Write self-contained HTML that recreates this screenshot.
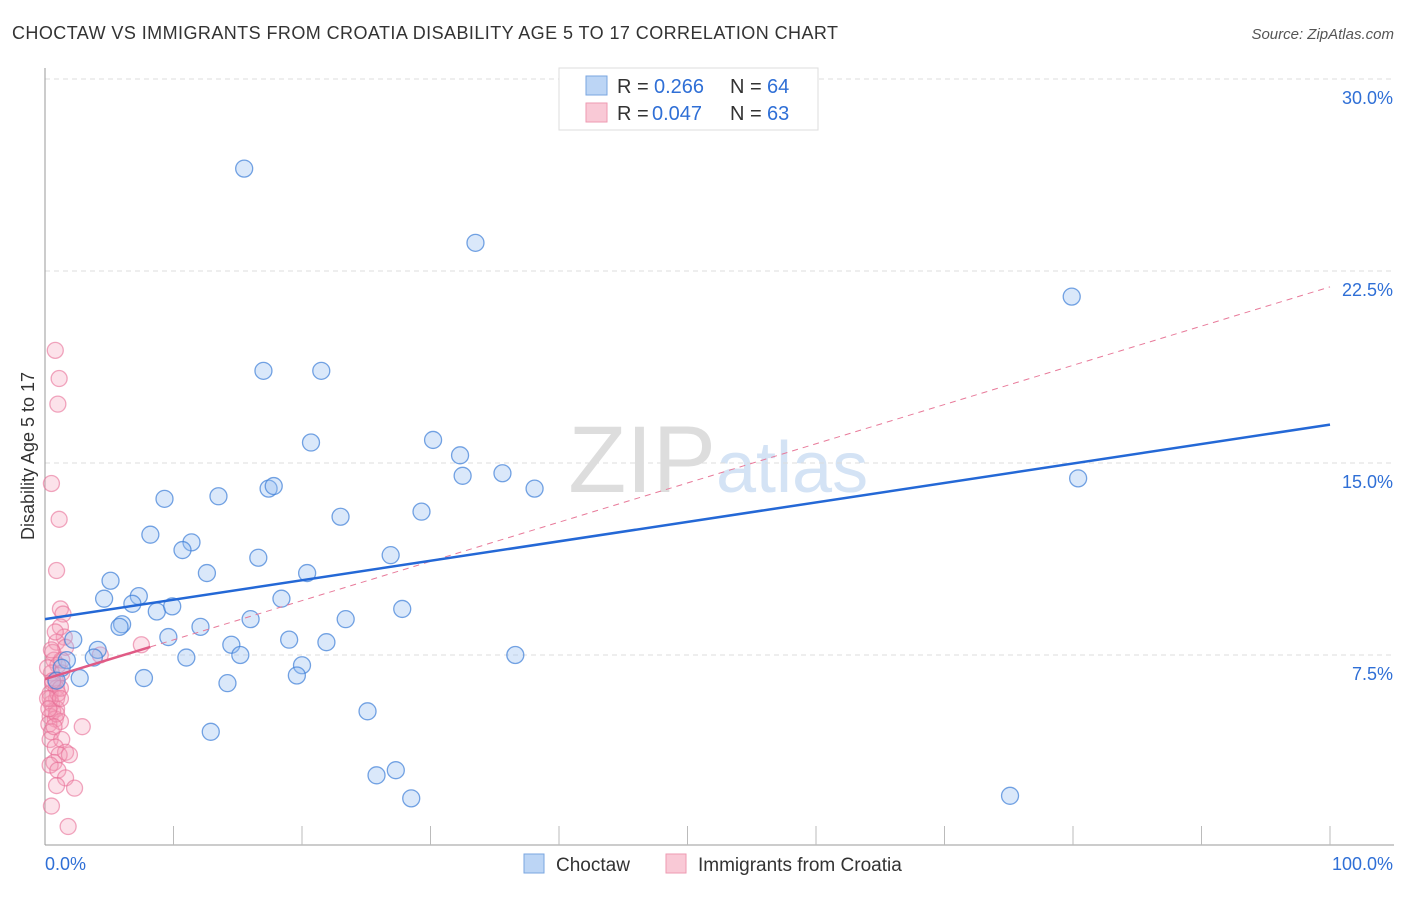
<!DOCTYPE html>
<html><head><meta charset="utf-8"><style>
body{margin:0;background:#fff;font-family:"Liberation Sans",sans-serif;}
svg text{font-family:"Liberation Sans",sans-serif;}
</style></head><body>
<svg id="c" width="1406" height="892">
<text x="12" y="39" font-size="18" fill="#333" textLength="826">CHOCTAW VS IMMIGRANTS FROM CROATIA DISABILITY AGE 5 TO 17 CORRELATION CHART</text>
<text x="1394" y="39" font-size="15" fill="#555" font-style="italic" text-anchor="end">Source: ZipAtlas.com</text>
<text x="34" y="456" font-size="18" fill="#333" text-anchor="middle" transform="rotate(-90 34 456)">Disability Age 5 to 17</text>
<text x="716" y="492" font-size="95" fill="#ddd" text-anchor="end" font-family="Liberation Serif">ZIP</text>
<text x="716" y="492" font-size="72" fill="#d4e3f5">atlas</text>
<g id="grid"></g><g id="marks"></g>
<g>
<rect x="559" y="68" width="259" height="62" fill="#fff" stroke="#ddd"/>
<rect x="586" y="76" width="21" height="19" fill="#bcd5f5" stroke="#7aa6e0"/>
<rect x="586" y="103" width="21" height="19" fill="#f9c9d6" stroke="#ee9ab2"/>
<text x="617" y="93" font-size="20" fill="#333">R = <tspan x="654" fill="#2f6fd6">0.266</tspan><tspan x="730">N = </tspan><tspan x="767" fill="#2f6fd6">64</tspan></text>
<text x="617" y="120" font-size="20" fill="#333">R = <tspan x="652" fill="#2f6fd6">0.047</tspan><tspan x="730">N = </tspan><tspan x="767" fill="#2f6fd6">63</tspan></text>
</g>
<g>
<rect x="524" y="854" width="20" height="19" fill="#bcd5f5" stroke="#7aa6e0"/>
<text x="556" y="871" font-size="19" fill="#333">Choctaw</text>
<rect x="666" y="854" width="20" height="19" fill="#f9c9d6" stroke="#ee9ab2"/>
<text x="698" y="871" font-size="19" fill="#333">Immigrants from Croatia</text>
</g>
</svg>
<script>
const yTicks=[7.5,15,22.5,30];
const yTickLabels=["7.5%","15.0%","22.5%","30.0%"];
const blueX=[15.5,33.5,79.9,17.0,21.5,20.7,30.2,32.3,32.5,35.6,38.1,80.4,9.3,13.5,17.4,17.8,23.0,29.3,8.2,11.4,10.7,16.6,26.9,12.6,5.1,20.4,4.6,7.3,6.8,8.7,9.9,18.4,27.8,6.0,5.8,16.0,23.4,12.1,9.6,19.0,21.9,14.5,4.1,3.8,15.2,36.6,11.0,2.2,1.7,1.3,20.0,19.6,7.7,2.7,14.2,25.1,12.9,25.8,27.3,28.5,75.1,0.9];
const blueY=[26.5,23.6,21.5,18.6,18.6,15.8,15.9,15.3,14.5,14.6,14.0,14.4,13.6,13.7,14.0,14.1,12.9,13.1,12.2,11.9,11.6,11.3,11.4,10.7,10.4,10.7,9.7,9.8,9.5,9.2,9.4,9.7,9.3,8.7,8.6,8.9,8.9,8.6,8.2,8.1,8.0,7.9,7.7,7.4,7.5,7.5,7.4,8.1,7.3,7.0,7.1,6.7,6.6,6.6,6.4,5.3,4.5,2.8,3.0,1.9,2.0,6.5];
const pinkX=[0.8,1.1,1.0,0.5,1.1,0.9,1.2,1.4,1.2,1.5,0.9,1.6,7.5,0.6,4.3,0.7,1.0,0.5,1.3,0.8,0.9,0.4,0.9,0.5,0.9,0.6,0.4,0.8,1.2,0.3,2.9,0.5,0.4,1.3,0.8,1.6,1.1,1.9,0.7,0.4,1.0,1.6,0.9,2.3,0.5,1.8,0.4,1.0,0.6,1.2,0.2,1.3,0.5,0.8,0.2,0.6,0.9,0.7,0.3,1.2];
const pinkY=[19.4,18.3,17.3,14.2,12.8,10.8,9.3,9.1,8.6,8.2,8.0,7.8,7.9,7.6,7.5,7.3,7.1,6.8,6.8,6.5,6.2,6.0,5.8,5.6,5.4,5.3,5.1,5.0,4.9,4.8,4.7,4.5,4.2,4.2,3.9,3.7,3.6,3.6,3.3,3.2,3.0,2.7,2.4,2.3,1.6,0.8,5.8,6.0,6.4,6.2,7.0,7.3,7.7,8.4,5.8,6.5,5.2,4.7,5.4,5.8];
const blueFit=[8.9,16.5], pinkFit=[6.56,21.88], pinkSolidEnd=8.2;
const X=v=>45+v*12.85, Y=v=>847-v*25.6;
const NS="http://www.w3.org/2000/svg";
const g=document.getElementById('grid'), m=document.getElementById('marks');
function mk(p,tag,a){const e=document.createElementNS(NS,tag);for(const k in a)e.setAttribute(k,a[k]);p.appendChild(e);return e;}
yTicks.forEach((t,i)=>{
 const l=mk(g,'line',{x1:45,x2:1394,y1:Y(t),y2:Y(t),stroke:'#ddd','stroke-dasharray':'5,4'});
 
 
 const tx=mk(g,'text',{x:1393,y:Y(t)+25,'font-size':18,fill:'#2f6fd6','text-anchor':'end'});tx.textContent=yTickLabels[i];
 
 
});
const ax=mk(g,'line',{x1:45,x2:1394,y1:845,y2:845,stroke:'#999'});


const ay=mk(g,'line',{x1:45,x2:45,y1:68,y2:845,stroke:'#999'});


for(let i=1;i<=10;i++){const t=mk(g,'line',{x1:45+i*128.5,x2:45+i*128.5,y1:826,y2:845,stroke:'#bbb'});
 
 }
const xl=mk(g,'text',{x:45,y:870,'font-size':18,fill:'#2f6fd6'});xl.textContent='0.0%';


const xr=mk(g,'text',{x:1393,y:870,'font-size':18,fill:'#2f6fd6','text-anchor':'end'});xr.textContent='100.0%';


pinkX.forEach((v,i)=>{const c=mk(m,'circle',{cx:X(v),cy:Y(pinkY[i]),r:8,fill:'rgba(246,160,185,0.3)',stroke:'rgba(232,110,150,0.6)','stroke-width':1.3});
 
 });
blueX.forEach((v,i)=>{const c=mk(m,'circle',{cx:X(v),cy:Y(blueY[i]),r:8.5,fill:'rgba(150,190,240,0.35)',stroke:'rgba(60,125,215,0.7)','stroke-width':1.3});
 
 });
const pf=v=>pinkFit[0]+(pinkFit[1]-pinkFit[0])*v/100;
const pd=mk(m,'line',{x1:X(pinkSolidEnd),y1:Y(pf(pinkSolidEnd)),x2:X(100),y2:Y(pf(100)),stroke:'#e87a9a','stroke-width':1,'stroke-dasharray':'6,5'});


const ps=mk(m,'line',{x1:X(0),y1:Y(pf(0)),x2:X(pinkSolidEnd),y2:Y(pf(pinkSolidEnd)),stroke:'#e05a85','stroke-width':2.5});


const bl=mk(m,'line',{x1:X(0),y1:Y(blueFit[0]),x2:X(100),y2:Y(blueFit[1]),stroke:'#2468d6','stroke-width':2.5});


</script>
</body></html>
